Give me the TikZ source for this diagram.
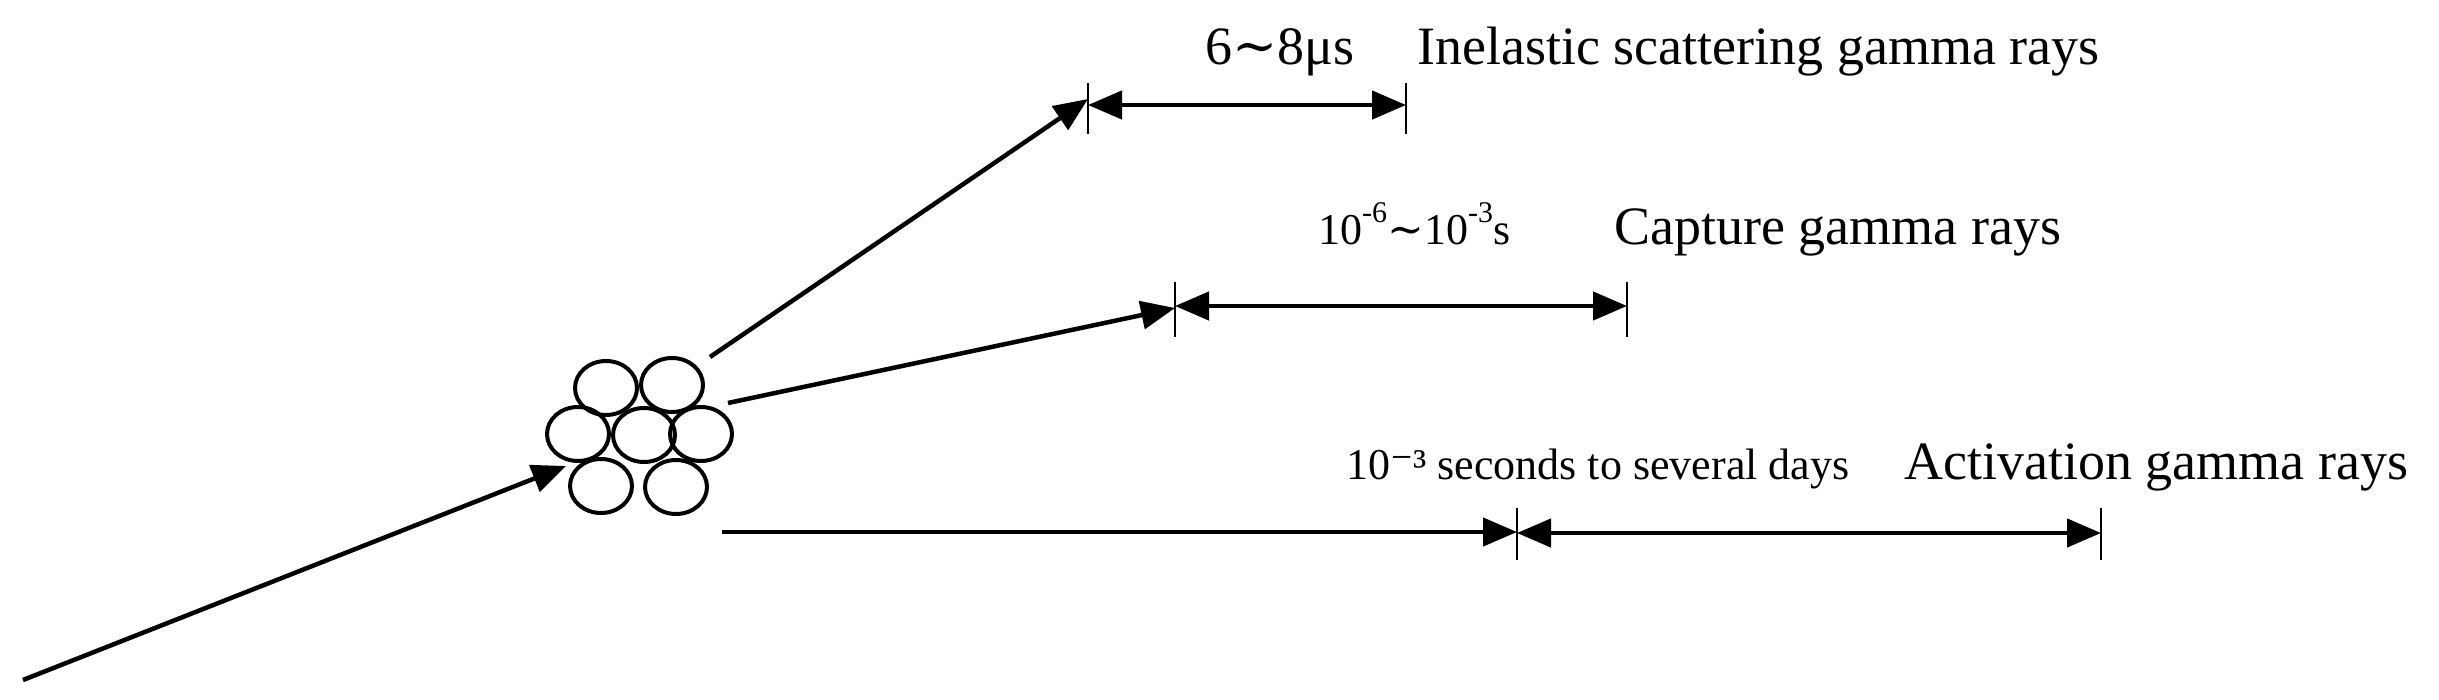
\documentclass[tikz,border=0pt]{standalone}
\usepackage{fontspec}
\setmainfont{Liberation Serif}
\newfontfamily\symfont{DejaVu Serif}
\usetikzlibrary{arrows.meta,shapes.geometric}
\begin{document}
\begin{tikzpicture}[x=1pt,y=-1pt,
  nuc/.style={draw,ellipse,line width=4pt,minimum width=62pt,minimum height=54pt,inner sep=0pt},
  ray/.style={line width=4.5pt,-{Triangle[length=34pt,width=28pt]}},
  dimln/.style={line width=4.5pt,{Triangle[length=34pt,width=28pt]}-{Triangle[length=34pt,width=28pt]}},
  tick/.style={line width=2.5pt},
  big/.style={anchor=base west,inner sep=0pt,font=\fontsize{54}{58}\selectfont},
  small/.style={anchor=base west,inner sep=0pt,font=\fontsize{44}{48}\selectfont}]
\useasboundingbox (0,0) rectangle (2439,699);
\node[nuc] (c1) at (606,388) {};
\node[nuc] (c2) at (672,385) {};
\node[nuc] (c3) at (578,434) {};
\node[nuc] (c4) at (644,435) {};
\node[nuc] (c5) at (701,434) {};
\node[nuc] (c6) at (601,486) {};
\node[nuc] (c7) at (676,487) {};
\coordinate (s0) at (23,680);
\coordinate (e0) at (566,466);
\draw[ray] (s0) -- (e0);
% ticks
\coordinate (t1a) at (1088,83); \coordinate (t1b) at (1088,134);
\coordinate (t1c) at (1406,83); \coordinate (t1d) at (1406,134);
\coordinate (t2a) at (1175,282); \coordinate (t2b) at (1175,337);
\coordinate (t2c) at (1627,282); \coordinate (t2d) at (1627,337);
\coordinate (t3a) at (1517,508); \coordinate (t3b) at (1517,560);
\coordinate (t3c) at (2101,508); \coordinate (t3d) at (2101,560);
\foreach \a/\b in {t1a/t1b,t1c/t1d,t2a/t2b,t2c/t2d,t3a/t3b,t3c/t3d}
  \draw[tick] (\a) -- (\b);
\coordinate (s1) at (710,357); \coordinate (e1) at (1088,99);
\coordinate (s2) at (728,403); \coordinate (e2) at (1175,308);
\coordinate (s3) at (722,532); \coordinate (e3) at (1517,532);
\draw[ray] (s1) -- (e1);
\draw[ray] (s2) -- (e2);
\draw[ray] (s3) -- (e3);
\coordinate (d1a) at (1088,105); \coordinate (d1b) at (1406,105);
\coordinate (d2a) at (1175,306); \coordinate (d2b) at (1627,306);
\coordinate (d3a) at (1517,533); \coordinate (d3b) at (2101,533);
\draw[dimln] (d1a) -- (d1b);
\draw[dimln] (d2a) -- (d2b);
\draw[dimln] (d3a) -- (d3b);
\node[big] (l1a) at (1205,64) {6{\symfont ∼}8μs};
\node[big] (l1b) at (1417,64) {Inelastic scattering gamma rays};
\node[small] (l2a) at (1318,244) {10\raisebox{0.5em}{\fontsize{30}{32}\selectfont -6}{\symfont ∼}10\raisebox{0.5em}{\fontsize{30}{32}\selectfont -3}s};
\node[big] (l2b) at (1614,244) {Capture gamma rays};
\node[small] (l3a) at (1346,479) {10{\symfont ⁻}³ seconds to several days};
\node[big] (l3b) at (1904,479) {Activation gamma rays};
\end{tikzpicture}
\end{document}
